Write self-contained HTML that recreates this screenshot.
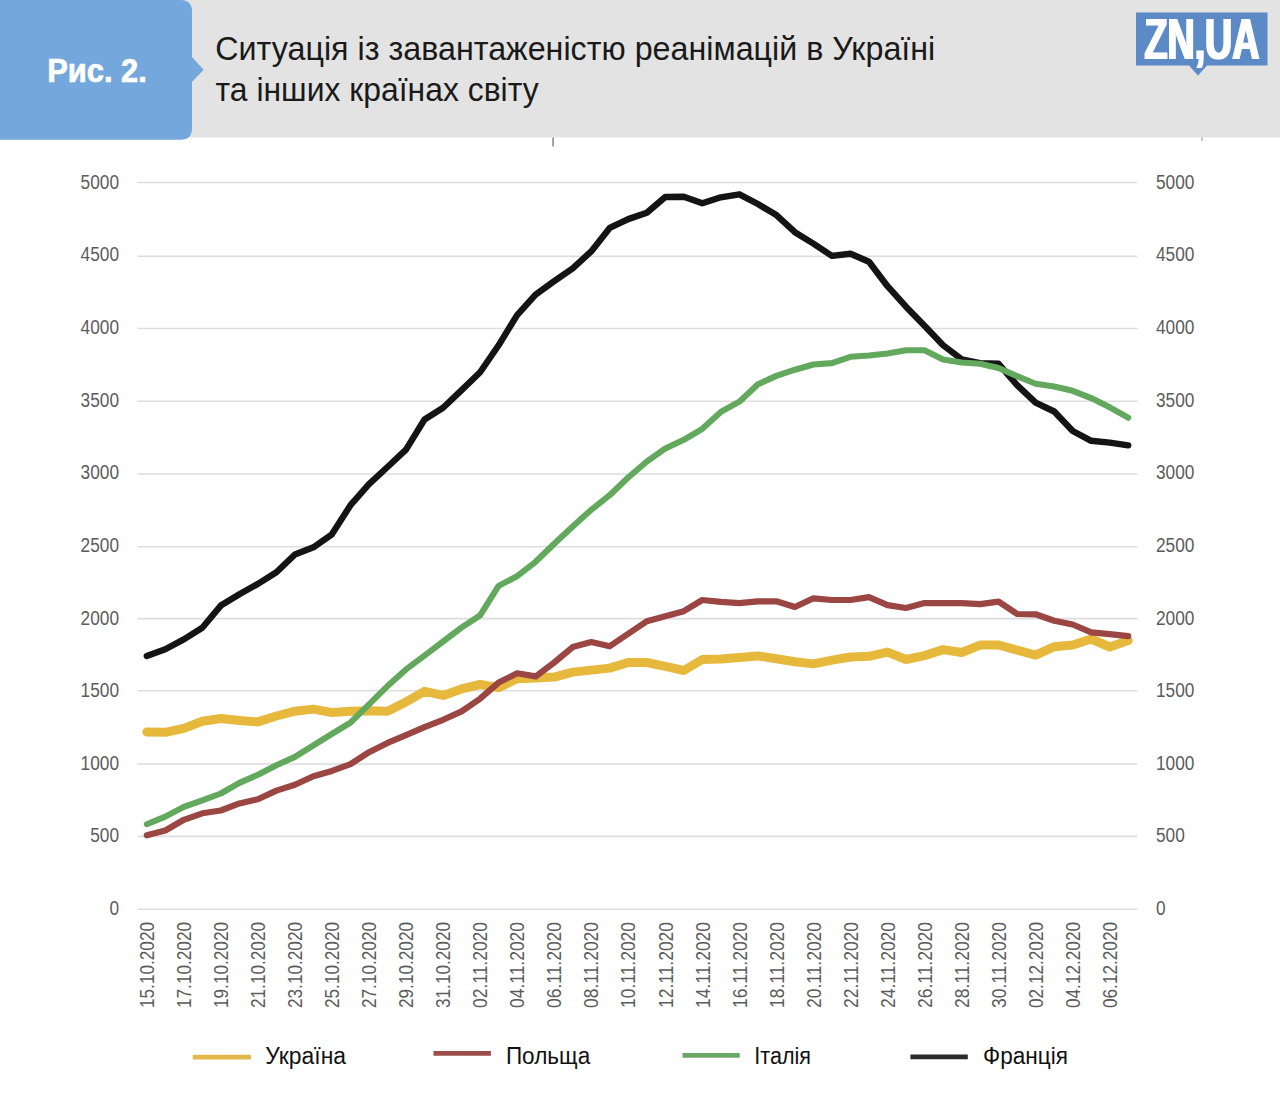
<!DOCTYPE html>
<html lang="uk">
<head>
<meta charset="utf-8">
<title>Рис. 2. Ситуація із завантаженістю реанімацій</title>
<style>
html,body{margin:0;padding:0;background:#fff;}
body{width:1280px;height:1094px;overflow:hidden;}
svg{display:block;}
text{font-family:"Liberation Sans", Arial, sans-serif;}
.ax{font-size:19.5px;fill:#5c5c5c;}
.dt{font-size:19.5px;fill:#5c5c5c;}
.lg{font-size:23px;fill:#111;}
.ttl{font-size:33px;fill:#1a1a1a;}
</style>
</head>
<body>
<svg width="1280" height="1094" viewBox="0 0 1280 1094">
<rect x="0" y="0" width="1280" height="1094" fill="#ffffff"/>
<rect x="0" y="0" width="1280" height="137.5" fill="#e3e3e3"/>
<path d="M0 0 H180.5 Q192 0 192 11.5 V57 L203.6 69.7 L192 82 V128.2 Q192 139.7 180.5 139.7 H0 Z" fill="#74a7dc"/>
<text x="47.2" y="81.9" font-size="33" font-weight="bold" fill="#ffffff" stroke="#ffffff" stroke-width="0.7" textLength="99.6" lengthAdjust="spacingAndGlyphs">Рис. 2.</text>
<text class="ttl" x="215.3" y="60" textLength="720" lengthAdjust="spacingAndGlyphs">Ситуація із завантаженістю реанімацій в Україні</text>
<text class="ttl" x="215.6" y="101" textLength="323" lengthAdjust="spacingAndGlyphs">та інших країнах світу</text>
<path d="M1136 12.5 H1267.5 V65.5 H1207 L1198 75.5 L1189 65.5 H1136 Z" fill="#5b8ac6"/>
<defs><filter id="fat" x="-5%" y="-5%" width="110%" height="110%"><feMorphology operator="dilate" radius="1 0"/></filter></defs>
<text x="1144.6" y="58.8" font-size="57.3" font-weight="bold" fill="#ffffff" textLength="114.8" lengthAdjust="spacingAndGlyphs" filter="url(#fat)">ZN,UA</text><rect x="552.4" y="137.5" width="1.4" height="9" fill="#7a7a7a"/>
<rect x="1201.3" y="137.5" width="1.4" height="3.5" fill="#b0b0b0"/>
<g stroke="#dddddd" stroke-width="1.6">
<line x1="137.5" y1="182.5" x2="1137.5" y2="182.5"/>
<line x1="137.5" y1="256.2" x2="1137.5" y2="256.2"/>
<line x1="137.5" y1="328.5" x2="1137.5" y2="328.5"/>
<line x1="137.5" y1="401.2" x2="1137.5" y2="401.2"/>
<line x1="137.5" y1="474.0" x2="1137.5" y2="474.0"/>
<line x1="137.5" y1="546.7" x2="1137.5" y2="546.7"/>
<line x1="137.5" y1="618.6" x2="1137.5" y2="618.6"/>
<line x1="137.5" y1="690.7" x2="1137.5" y2="690.7"/>
<line x1="137.5" y1="764.0" x2="1137.5" y2="764.0"/>
<line x1="137.5" y1="836.4" x2="1137.5" y2="836.4"/>
<line x1="137.5" y1="909.3" x2="1137.5" y2="909.3"/>
</g>
<g class="ax">
<text x="80.6" y="189.2" textLength="38.4" lengthAdjust="spacingAndGlyphs">5000</text>
<text x="1156" y="189.2" textLength="38.4" lengthAdjust="spacingAndGlyphs">5000</text>
<text x="80.6" y="261.1" textLength="38.4" lengthAdjust="spacingAndGlyphs">4500</text>
<text x="1156" y="261.1" textLength="38.4" lengthAdjust="spacingAndGlyphs">4500</text>
<text x="80.6" y="334.2" textLength="38.4" lengthAdjust="spacingAndGlyphs">4000</text>
<text x="1156" y="334.2" textLength="38.4" lengthAdjust="spacingAndGlyphs">4000</text>
<text x="80.6" y="406.8" textLength="38.4" lengthAdjust="spacingAndGlyphs">3500</text>
<text x="1156" y="406.8" textLength="38.4" lengthAdjust="spacingAndGlyphs">3500</text>
<text x="80.6" y="479.3" textLength="38.4" lengthAdjust="spacingAndGlyphs">3000</text>
<text x="1156" y="479.3" textLength="38.4" lengthAdjust="spacingAndGlyphs">3000</text>
<text x="80.6" y="551.9" textLength="38.4" lengthAdjust="spacingAndGlyphs">2500</text>
<text x="1156" y="551.9" textLength="38.4" lengthAdjust="spacingAndGlyphs">2500</text>
<text x="80.6" y="624.9" textLength="38.4" lengthAdjust="spacingAndGlyphs">2000</text>
<text x="1156" y="624.9" textLength="38.4" lengthAdjust="spacingAndGlyphs">2000</text>
<text x="80.6" y="697.0" textLength="38.4" lengthAdjust="spacingAndGlyphs">1500</text>
<text x="1156" y="697.0" textLength="38.4" lengthAdjust="spacingAndGlyphs">1500</text>
<text x="80.6" y="769.5" textLength="38.4" lengthAdjust="spacingAndGlyphs">1000</text>
<text x="1156" y="769.5" textLength="38.4" lengthAdjust="spacingAndGlyphs">1000</text>
<text x="90.2" y="842.1" textLength="28.8" lengthAdjust="spacingAndGlyphs">500</text>
<text x="1156" y="842.1" textLength="28.8" lengthAdjust="spacingAndGlyphs">500</text>
<text x="109.4" y="914.6" textLength="9.6" lengthAdjust="spacingAndGlyphs">0</text>
<text x="1156" y="914.6" textLength="9.6" lengthAdjust="spacingAndGlyphs">0</text>
</g>
<g class="dt">
<text transform="translate(154.0,1008) rotate(-90)" textLength="86" lengthAdjust="spacingAndGlyphs">15.10.2020</text>
<text transform="translate(191.0,1008) rotate(-90)" textLength="86" lengthAdjust="spacingAndGlyphs">17.10.2020</text>
<text transform="translate(228.0,1008) rotate(-90)" textLength="86" lengthAdjust="spacingAndGlyphs">19.10.2020</text>
<text transform="translate(265.1,1008) rotate(-90)" textLength="86" lengthAdjust="spacingAndGlyphs">21.10.2020</text>
<text transform="translate(302.1,1008) rotate(-90)" textLength="86" lengthAdjust="spacingAndGlyphs">23.10.2020</text>
<text transform="translate(339.1,1008) rotate(-90)" textLength="86" lengthAdjust="spacingAndGlyphs">25.10.2020</text>
<text transform="translate(376.2,1008) rotate(-90)" textLength="86" lengthAdjust="spacingAndGlyphs">27.10.2020</text>
<text transform="translate(413.2,1008) rotate(-90)" textLength="86" lengthAdjust="spacingAndGlyphs">29.10.2020</text>
<text transform="translate(450.3,1008) rotate(-90)" textLength="86" lengthAdjust="spacingAndGlyphs">31.10.2020</text>
<text transform="translate(487.3,1008) rotate(-90)" textLength="86" lengthAdjust="spacingAndGlyphs">02.11.2020</text>
<text transform="translate(524.3,1008) rotate(-90)" textLength="86" lengthAdjust="spacingAndGlyphs">04.11.2020</text>
<text transform="translate(561.4,1008) rotate(-90)" textLength="86" lengthAdjust="spacingAndGlyphs">06.11.2020</text>
<text transform="translate(598.4,1008) rotate(-90)" textLength="86" lengthAdjust="spacingAndGlyphs">08.11.2020</text>
<text transform="translate(635.4,1008) rotate(-90)" textLength="86" lengthAdjust="spacingAndGlyphs">10.11.2020</text>
<text transform="translate(672.5,1008) rotate(-90)" textLength="86" lengthAdjust="spacingAndGlyphs">12.11.2020</text>
<text transform="translate(709.5,1008) rotate(-90)" textLength="86" lengthAdjust="spacingAndGlyphs">14.11.2020</text>
<text transform="translate(746.6,1008) rotate(-90)" textLength="86" lengthAdjust="spacingAndGlyphs">16.11.2020</text>
<text transform="translate(783.6,1008) rotate(-90)" textLength="86" lengthAdjust="spacingAndGlyphs">18.11.2020</text>
<text transform="translate(820.6,1008) rotate(-90)" textLength="86" lengthAdjust="spacingAndGlyphs">20.11.2020</text>
<text transform="translate(857.7,1008) rotate(-90)" textLength="86" lengthAdjust="spacingAndGlyphs">22.11.2020</text>
<text transform="translate(894.7,1008) rotate(-90)" textLength="86" lengthAdjust="spacingAndGlyphs">24.11.2020</text>
<text transform="translate(931.7,1008) rotate(-90)" textLength="86" lengthAdjust="spacingAndGlyphs">26.11.2020</text>
<text transform="translate(968.8,1008) rotate(-90)" textLength="86" lengthAdjust="spacingAndGlyphs">28.11.2020</text>
<text transform="translate(1005.8,1008) rotate(-90)" textLength="86" lengthAdjust="spacingAndGlyphs">30.11.2020</text>
<text transform="translate(1042.8,1008) rotate(-90)" textLength="86" lengthAdjust="spacingAndGlyphs">02.12.2020</text>
<text transform="translate(1079.9,1008) rotate(-90)" textLength="86" lengthAdjust="spacingAndGlyphs">04.12.2020</text>
<text transform="translate(1116.9,1008) rotate(-90)" textLength="86" lengthAdjust="spacingAndGlyphs">06.12.2020</text>
</g>
<polyline fill="none" stroke="#e6b93c" stroke-width="9" stroke-linejoin="round" stroke-linecap="round" points="146.8,731.9 165.3,732.3 183.8,728.4 202.3,721.3 220.8,718.5 239.4,720.4 257.9,721.9 276.4,716.0 294.9,711.2 313.4,709.1 331.9,712.6 350.5,711.2 369.0,710.7 387.5,711.2 406.0,701.9 424.5,691.3 443.1,695.4 461.6,688.9 480.1,684.5 498.6,687.6 517.1,678.8 535.6,678.1 554.2,677.1 572.7,672.1 591.2,670.1 609.7,668.1 628.2,662.5 646.8,662.5 665.3,666.3 683.8,670.5 702.3,659.5 720.8,659.1 739.4,657.5 757.9,655.9 776.4,658.8 794.9,661.8 813.4,663.9 831.9,660.1 850.5,657.0 869.0,656.3 887.5,652.1 906.0,659.5 924.5,655.6 943.1,649.6 961.6,652.5 980.1,645.1 998.6,645.0 1017.1,650.2 1035.6,655.1 1054.2,646.7 1072.7,645.0 1091.2,639.0 1109.7,647.0 1128.2,640.6"/>
<polyline fill="none" stroke="#9b4642" stroke-width="6.2" stroke-linejoin="round" stroke-linecap="round" points="146.8,835.3 165.3,830.5 183.8,819.8 202.3,813.3 220.8,810.5 239.4,803.4 257.9,799.2 276.4,790.6 294.9,784.8 313.4,776.2 331.9,770.9 350.5,764.2 369.0,752.2 387.5,742.9 406.0,735.1 424.5,727.1 443.1,719.8 461.6,711.4 480.1,698.7 498.6,682.6 517.1,673.3 535.6,676.4 554.2,662.5 572.7,647.1 591.2,642.0 609.7,646.3 628.2,633.8 646.8,621.3 665.3,616.3 683.8,611.2 702.3,600.0 720.8,601.8 739.4,603.1 757.9,601.3 776.4,601.3 794.9,607.0 813.4,598.3 831.9,600.0 850.5,600.0 869.0,597.1 887.5,605.1 906.0,608.0 924.5,603.1 943.1,603.1 961.6,603.1 980.1,604.1 998.6,601.6 1017.1,614.0 1035.6,614.3 1054.2,620.8 1072.7,624.5 1091.2,632.3 1109.7,634.1 1128.2,636.2"/>
<polyline fill="none" stroke="#141414" stroke-width="6.4" stroke-linejoin="round" stroke-linecap="round" points="146.8,656.0 165.3,649.3 183.8,639.4 202.3,627.7 220.8,605.6 239.4,594.2 257.9,583.9 276.4,572.3 294.9,554.5 313.4,547.3 331.9,534.3 350.5,505.2 369.0,484.2 387.5,467.0 406.0,449.6 424.5,419.5 443.1,407.8 461.6,390.1 480.1,372.2 498.6,345.3 517.1,315.1 535.6,294.7 554.2,281.2 572.7,268.3 591.2,251.4 609.7,227.9 628.2,219.1 646.8,212.7 665.3,197.0 683.8,196.7 702.3,203.3 720.8,197.3 739.4,194.3 757.9,204.0 776.4,215.1 794.9,232.2 813.4,243.6 831.9,255.9 850.5,253.7 869.0,261.7 887.5,286.2 906.0,306.7 924.5,325.7 943.1,345.2 961.6,359.3 980.1,363.2 998.6,363.8 1017.1,385.2 1035.6,402.6 1054.2,411.5 1072.7,431.0 1091.2,440.8 1109.7,442.6 1128.2,445.3"/>
<polyline fill="none" stroke="#62a95e" stroke-width="6.1" stroke-linejoin="round" stroke-linecap="round" points="146.8,824.2 165.3,816.6 183.8,806.9 202.3,800.4 220.8,793.5 239.4,782.9 257.9,774.8 276.4,765.2 294.9,756.9 313.4,745.4 331.9,733.8 350.5,722.7 369.0,704.3 387.5,686.1 406.0,669.4 424.5,655.6 443.1,641.5 461.6,627.5 480.1,615.4 498.6,585.9 517.1,576.2 535.6,561.8 554.2,543.8 572.7,526.5 591.2,509.8 609.7,495.2 628.2,477.5 646.8,461.5 665.3,448.5 683.8,439.8 702.3,428.8 720.8,411.9 739.4,401.7 757.9,384.3 776.4,375.9 794.9,369.7 813.4,364.5 831.9,363.1 850.5,356.8 869.0,355.5 887.5,353.5 906.0,350.3 924.5,350.3 943.1,359.6 961.6,362.5 980.1,363.8 998.6,368.0 1017.1,376.1 1035.6,383.7 1054.2,386.5 1072.7,390.8 1091.2,398.1 1109.7,407.3 1128.2,417.7"/>
<line x1="192.8" y1="1057.2" x2="250.9" y2="1057.2" stroke="#e3b84a" stroke-width="4.8"/>
<text class="lg" x="265.3" y="1063.7" textLength="80.7" lengthAdjust="spacingAndGlyphs">Україна</text>
<line x1="433.5" y1="1053.4" x2="490.9" y2="1053.4" stroke="#9b4e4a" stroke-width="4.8"/>
<text class="lg" x="505.9" y="1063.7" textLength="84.3" lengthAdjust="spacingAndGlyphs">Польща</text>
<line x1="682.5" y1="1055.3" x2="739.7" y2="1055.3" stroke="#6aa866" stroke-width="4.8"/>
<text class="lg" x="754.3" y="1063.7" textLength="56.7" lengthAdjust="spacingAndGlyphs">Італія</text>
<line x1="910.4" y1="1056.8" x2="967.8" y2="1056.8" stroke="#2b2b2b" stroke-width="4.8"/>
<text class="lg" x="983.1" y="1063.7" textLength="84.9" lengthAdjust="spacingAndGlyphs">Франція</text>
</svg>
</body>
</html>
